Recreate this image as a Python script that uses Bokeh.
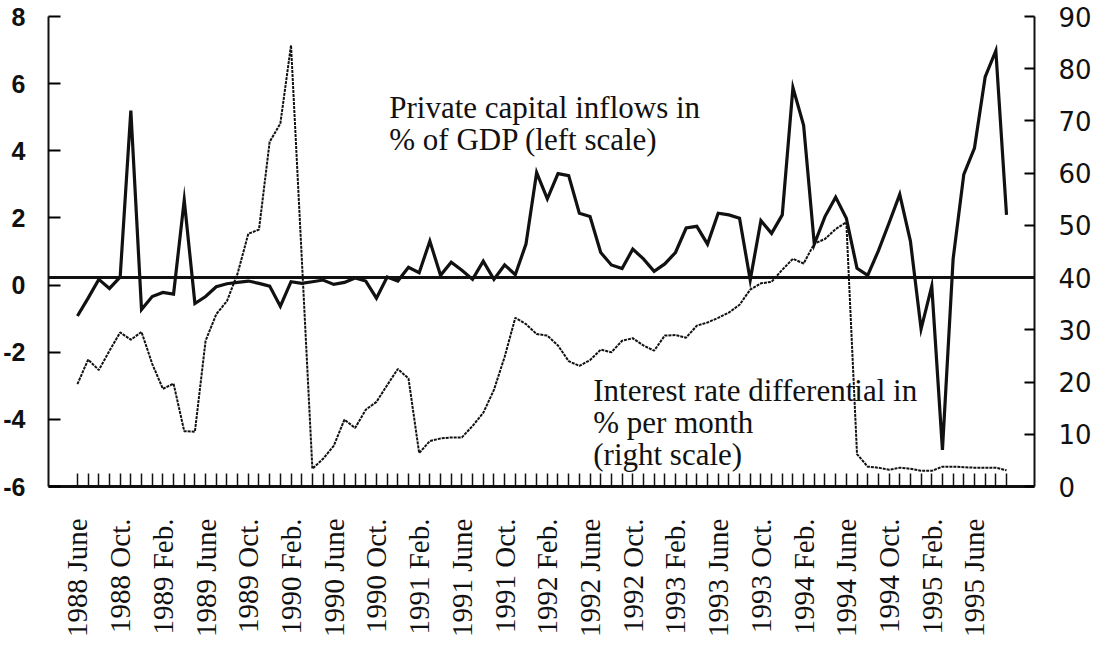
import math
from bokeh.plotting import figure
from bokeh.models import Range1d, LinearAxis, FixedTicker, Span, Label
from bokeh.embed import file_html
from bokeh.resources import INLINE

# ---- data (monthly, 1988 June .. 1995 Sept.) ----
tick_labels = ["1988 June", "1988 Oct.", "1989 Feb.", "1989 June", "1989 Oct.",
               "1990 Feb.", "1990 June", "1990 Oct.", "1991 Feb.", "1991 June",
               "1991 Oct.", "1992 Feb.", "1992 June", "1992 Oct.", "1993 Feb.",
               "1993 June", "1993 Oct.", "1994 Feb.", "1994 June", "1994 Oct.",
               "1995 Feb.", "1995 June"]
label_every = 4
left_ticks = [-6, -4, -2, 0, 2, 4, 6, 8]
right_ticks = [0, 10, 20, 30, 40, 50, 60, 70, 80, 90]

# Private capital inflows in % of GDP (left scale)
capital_inflows = [
    -0.92, -0.39, 0.17, -0.10, 0.24, 5.20, -0.73, -0.34, -0.22, -0.27,
    2.53, -0.55, -0.34, -0.05, 0.04, 0.08, 0.12, 0.05, -0.03, -0.63,
    0.10, 0.05, 0.10, 0.15, 0.02, 0.08, 0.21, 0.12, -0.39, 0.24,
    0.12, 0.53, 0.37, 1.31, 0.29, 0.68, 0.44, 0.17, 0.71, 0.17,
    0.60, 0.31, 1.22, 3.35, 2.57, 3.32, 3.26, 2.14, 2.04, 0.97,
    0.60, 0.49, 1.07, 0.78, 0.41, 0.63, 0.97, 1.70, 1.75, 1.22,
    2.14, 2.09, 1.99, 0.15, 1.92, 1.54, 2.09, 5.88, 4.76, 1.22,
    2.04, 2.62, 1.99, 0.50, 0.29, 1.02, 1.85, 2.70, 1.31, -1.31,
    -0.03, -4.91, 0.78, 3.30, 4.08, 6.20, 6.98, 2.09]

# Interest rate differential in % per month (right scale)
interest_diff = [
    19.6, 24.3, 22.3, 26.0, 29.5, 28.1, 29.6, 23.5, 18.7, 19.7,
    10.6, 10.5, 27.9, 33.0, 35.5, 40.8, 48.4, 49.2, 66.0, 69.5,
    84.5, 44.0, 3.4, 5.3, 7.8, 12.8, 11.2, 14.7, 16.2, 19.4,
    22.5, 20.7, 6.4, 8.7, 9.2, 9.4, 9.4, 11.6, 14.1, 18.5,
    24.8, 32.3, 31.1, 29.2, 28.9, 27.0, 24.0, 23.1, 24.2, 26.2,
    25.7, 27.9, 28.4, 27.0, 26.0, 28.9, 29.0, 28.5, 30.8, 31.4,
    32.3, 33.3, 34.8, 37.7, 38.9, 39.2, 41.5, 43.6, 42.7, 46.5,
    47.4, 49.3, 50.6, 6.2, 3.8, 3.6, 3.2, 3.6, 3.4, 3.0,
    3.0, 3.8, 3.8, 3.7, 3.6, 3.6, 3.6, 3.1]

reference_level_right = 40

months = list(range(len(capital_inflows)))

SERIF = "Liberation Serif"

p = figure(width=1094, height=639, output_backend="svg", toolbar_location=None,
           x_range=Range1d(-2.71, 89.62), y_range=Range1d(-6, 8),
           min_border_left=48, min_border_right=59, min_border_top=16,
           min_border_bottom=152)
p.extra_y_ranges = {"right": Range1d(0, 90)}
p.outline_line_color = None
p.grid.visible = False
p.background_fill_color = "white"
p.border_fill_color = "white"

# bottom axis: monthly ticks, label every 4th month
xa = p.xaxis[0]
xa.ticker = FixedTicker(ticks=months)
overrides = {m: "" for m in months}
for k, lab in enumerate(tick_labels):
    overrides[k * label_every] = lab
xa.major_label_overrides = overrides
xa.major_label_orientation = math.pi / 2
xa.major_label_text_font = SERIF
xa.major_label_text_font_size = "29px"
xa.major_label_text_color = "#111111"
xa.major_label_standoff = 32
xa.major_tick_in = 13
xa.major_tick_out = 0
xa.major_tick_line_width = 1.5
xa.major_tick_line_color = "#111111"
xa.minor_tick_line_color = None
xa.axis_line_width = 3
xa.axis_line_color = "#111111"

# left axis
ya = p.yaxis[0]
ya.ticker = FixedTicker(ticks=left_ticks)
ya.major_label_overrides = {t: str(t) for t in left_ticks}
ya.major_tick_in = 12
ya.major_tick_out = 0
ya.major_tick_line_width = 2
ya.minor_tick_line_color = None
ya.axis_line_width = 2
ya.axis_line_color = "#111111"
ya.major_label_text_font = "Liberation Sans"
ya.major_label_text_font_style = "bold"
ya.major_label_text_font_size = "25px"
ya.major_label_text_color = "#111111"
ya.major_label_standoff = 23

# right axis
ra = LinearAxis(y_range_name="right", ticker=FixedTicker(ticks=right_ticks))
ra.major_label_overrides = {t: str(t) for t in right_ticks}
ra.major_tick_in = 10
ra.major_tick_out = 0
ra.major_tick_line_width = 2
ra.minor_tick_line_color = None
ra.axis_line_width = 2
ra.axis_line_color = "#111111"
ra.major_label_text_font = "DejaVu Sans"
ra.major_label_text_font_size = "26px"
ra.major_label_text_color = "#111111"
ra.major_label_standoff = 24
p.add_layout(ra, "right")

# reference horizontal line
p.add_layout(Span(location=reference_level_right, dimension="width", y_range_name="right",
                  line_color="#111111", line_width=3))

# series
p.line(months, interest_diff, y_range_name="right", line_color="#111111",
       line_width=2, line_dash="3 1")
p.line(months, capital_inflows, line_color="#111111", line_width=3.2,
       line_join="miter")

# annotations
def add_text(x, y, t):
    p.add_layout(Label(x=x, y=y, text=t, text_font=SERIF, text_font_size="31px",
                       text_color="#111111", text_baseline="alphabetic",
                       text_align="left"))

add_text(29.2, 5.30, "Private capital inflows in")
add_text(29.2, 4.33, "% of GDP (left scale)")
add_text(48.3, -3.15, "Interest rate differential in")
add_text(48.3, -4.09, "% per month")
add_text(48.3, -5.06, "(right scale)")

open("out.html", "w").write(file_html(p, INLINE))
